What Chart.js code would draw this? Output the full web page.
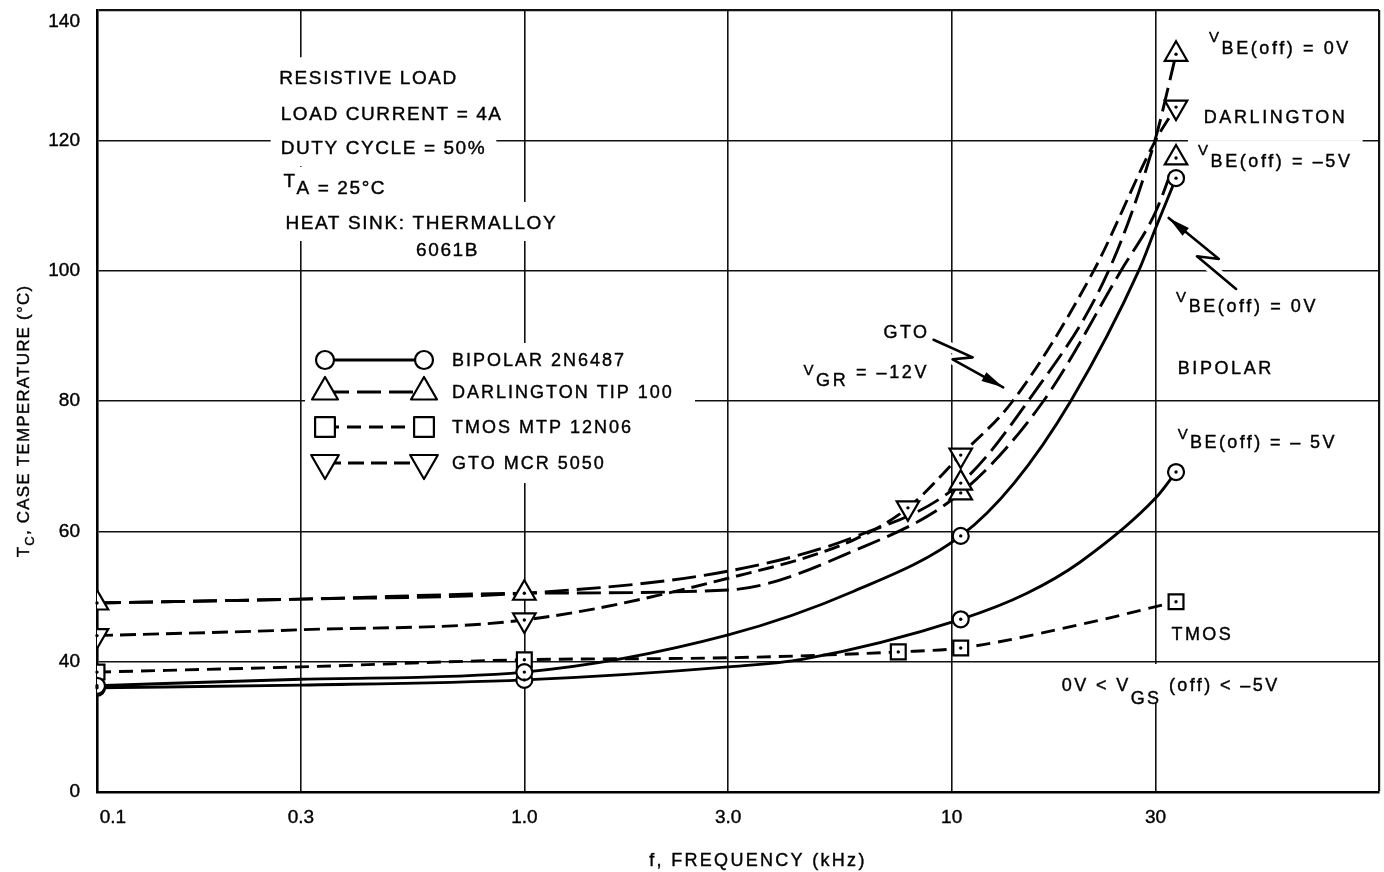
<!DOCTYPE html>
<html>
<head>
<meta charset="utf-8">
<script src="https://cdn.jsdelivr.net/npm/chart.js@4.4.1/dist/chart.umd.min.js"></script>
<style>
  html, body { margin: 0; padding: 0; background: #fff; }
  canvas { display: block; }
</style>
</head>
<body>
<canvas id="chart" width="1384" height="872"></canvas>
<script>
// axis ticks (the y axis is broken below 40: the bottom line is labelled 0)
const xTickValues = [0.1, 0.3, 1, 3, 10, 30, 100];
const xTickLabels = ['0.1', '0.3', '1.0', '3.0', '10', '30', ''];
const yTickValues = [20, 40, 60, 80, 100, 120, 140];
const yTickLabels = ['0', '40', '60', '80', '100', '120', '140'];

const seriesNames = ['BIPOLAR 2N6487', 'DARLINGTON TIP 100', 'TMOS MTP 12N06', 'GTO MCR 5050'];

// curves: frequency (kHz) / case temperature (°C)
const bipolar0Freq = [0.1, 0.3, 1.0, 3.0, 5.9, 10.5, 14, 19, 27.4, 30, 33.5];
const bipolar0Temp = [36.3, 37.3, 38.4, 44.1, 50.8, 59.3, 67.4, 80, 100, 106.5, 114.2];
const bipolar0Marks = [0.1, 1.0, 10.5, 33.5];

const bipolar5Freq = [0.1, 0.3, 1.0, 3.0, 4.5, 10.5, 15, 20, 30, 33.5];
const bipolar5Temp = [36.0, 36.4, 37.2, 39.2, 40.4, 46.5, 50.5, 55.3, 65.1, 69.1];
const bipolar5Marks = [0.1, 1.0, 10.5, 33.5];

const darl0Freq = [0.1, 0.3, 1.0, 3.0, 5.9, 10.5, 15.1, 23.3, 29.9, 33.5];
const darl0Temp = [49.0, 49.6, 50.5, 53.9, 59.1, 67.4, 80, 100, 120, 133.2];
const darl0Marks = [0.1, 1.0, 10.5, 33.5];

const darl5Freq = [0.1, 0.3, 1.0, 3.0, 5.9, 10.5, 16.4, 24.9, 30, 33.5];
const darl5Temp = [49.0, 49.6, 50.5, 51.0, 57.0, 65.9, 80, 100, 109, 117.3];
const darl5Marks = [10.5, 33.5];

const tmosFreq = [0.1, 0.3, 1.0, 3.0, 7.5, 10.5, 20, 33.5];
const tmosTemp = [38.4, 39.2, 40.3, 40.6, 41.5, 42.1, 45.7, 49.2];
const tmosMarks = [0.1, 1.0, 7.5, 10.5, 33.5];

const gtoFreq = [0.1, 0.3, 1.0, 3.0, 5.9, 7.9, 10.5, 13.9, 21.5, 30, 33.5];
const gtoTemp = [44.0, 44.9, 46.4, 52.8, 58.7, 63.6, 71.7, 80, 100, 120, 125.1];
const gtoMarks = [0.1, 1.0, 7.9, 10.5, 33.5];

const FONT = "'Liberation Sans', Arial, Helvetica, sans-serif";
const TEXT_STROKE = 0.4;

const styles = {
    bipolar: { pointStyle: 'circle', rotation: 0, radius: 8, legendRadius: 9, dash: [] },
    darlington: { pointStyle: 'triangle', rotation: 0, radius: 13, legendRadius: 15, dash: [24, 8] },
    tmos: { pointStyle: 'rect', rotation: 0, radius: 10.5, legendRadius: 14, dash: [14, 8] },
    gto: { pointStyle: 'triangle', rotation: 180, radius: 13, legendRadius: 16, dash: [16, 7] }
};

const curves = [
    { freq: bipolar0Freq, temp: bipolar0Temp, marks: bipolar0Marks, style: styles.bipolar },
    { freq: bipolar5Freq, temp: bipolar5Temp, marks: bipolar5Marks, style: styles.bipolar },
    { freq: darl0Freq, temp: darl0Temp, marks: darl0Marks, style: styles.darlington },
    { freq: darl5Freq, temp: darl5Temp, marks: darl5Marks, style: styles.darlington },
    { freq: tmosFreq, temp: tmosTemp, marks: tmosMarks, style: styles.tmos },
    { freq: gtoFreq, temp: gtoTemp, marks: gtoMarks, style: styles.gto }
];

// text placed in chart units (kHz, °C) at the left end of its baseline
const notes = [
    { f: 0.267, t: 128.6, ls: 1.6, parts: [{ t: 'RESISTIVE LOAD', size: 19 }] },
    { f: 0.269, t: 123.1, ls: 1.6, parts: [{ t: 'LOAD CURRENT = 4A', size: 19 }] },
    { f: 0.269, t: 117.9, ls: 1.6, parts: [{ t: 'DUTY CYCLE = 50%', size: 19 }] },
    { f: 0.273, t: 111.8, ls: 1.6, parts: [{ t: 'T', size: 19, dy: -7 }, { t: 'A = 25°C', size: 19 }] },
    { f: 0.276, t: 106.4, ls: 1.6, parts: [{ t: 'HEAT SINK: THERMALLOY', size: 19 }] },
    { f: 0.558, t: 102.2, ls: 1.6, parts: [{ t: '6061B', size: 19 }] },
    { f: 40.0, t: 133.2, ls: 2.6, parts: [{ t: 'V', size: 15, dy: -12 }, { t: 'BE(off) = 0V', size: 18 }] },
    { f: 38.9, t: 122.7, ls: 2.6, parts: [{ t: 'DARLINGTON', size: 18 }] },
    { f: 37.7, t: 115.9, ls: 2.6, parts: [{ t: 'V', size: 15, dy: -12 }, { t: 'BE(off) = –5V', size: 18 }] },
    { f: 33.5, t: 93.7, ls: 2.6, parts: [{ t: 'V', size: 15, dy: -10 }, { t: 'BE(off) = 0V', size: 18 }] },
    { f: 33.8, t: 84.1, ls: 2.6, parts: [{ t: 'BIPOLAR', size: 18 }] },
    { f: 33.8, t: 72.8, ls: 2.4, parts: [{ t: 'V', size: 15, dy: -9 }, { t: 'BE(off) = – 5V', size: 18 }] },
    { f: 32.7, t: 43.3, ls: 2.4, parts: [{ t: 'TMOS', size: 18 }] },
    { f: 18.1, t: 35.5, ls: 2.4, parts: [{ t: '0V < V', size: 18 }, { t: 'GS', size: 18, dy: 13 }, { t: ' (off) < –5V', size: 18 }] },
    { f: 6.93, t: 89.7, ls: 2.4, parts: [{ t: 'GTO', size: 18 }] },
    { f: 4.5, t: 82.3, ls: 2.6, parts: [{ t: 'V', size: 15, dy: -11 }, { t: 'GR', size: 18 }, { t: ' = –12V', size: 18, dy: -8 }] }
];

// lightning arrows: tail, zig, zag, tip (kHz, °C)
const arrows = [
    [[46.3, 97.2], [37.5, 102.2], [42.2, 101.8], [32.2, 108.1]],
    [[9.07, 89.4], [11.2, 86.7], [10.05, 86.4], [13.2, 82.1]]
];

const toPoints = (freq, temp) => freq.map((x, i) => ({ x: x, y: temp[i] }));

const datasets = [];
curves.forEach(c => {
    datasets.push({
        data: toPoints(c.freq, c.temp),
        showLine: true,
        borderColor: '#000',
        borderWidth: 2.9,
        borderDash: c.style.dash,
        cubicInterpolationMode: 'monotone',
        pointRadius: 0,
        fill: false,
        order: 2
    });
});
curves.forEach(c => {
    datasets.push({
        data: toPoints(c.freq, c.temp).filter(p => c.marks.includes(p.x)),
        showLine: false,
        pointStyle: c.style.pointStyle,
        pointRotation: c.style.rotation,
        pointRadius: c.style.radius,
        pointBackgroundColor: '#fff',
        pointBorderColor: '#000',
        pointBorderWidth: 2.2,
        markerDot: true,
        order: 1
    });
});

function setFont(ctx, size) {
    ctx.font = size + 'px ' + FONT;
}

function richWidth(ctx, parts, ls) {
    ctx.letterSpacing = ls + 'px';
    return parts.reduce((w, p) => {
        setFont(ctx, p.size);
        return w + ctx.measureText(p.t).width;
    }, 0);
}

function drawRich(ctx, x, y, parts, ls) {
    ctx.letterSpacing = ls + 'px';
    ctx.strokeStyle = '#000';
    ctx.lineWidth = TEXT_STROKE;
    ctx.setLineDash([]);
    let cx = x;
    parts.forEach(p => {
        setFont(ctx, p.size);
        ctx.fillText(p.t, cx, y + (p.dy || 0));
        ctx.strokeText(p.t, cx, y + (p.dy || 0));
        cx += ctx.measureText(p.t).width;
    });
}

function px(chart, f, t) {
    return [chart.scales.x.getPixelForValue(f), chart.scales.y.getPixelForValue(t)];
}

function legendOrigin(chart) {
    const a = chart.chartArea;
    return { x: a.left + 228, y: a.top + 350 };
}
const legendRowOffsets = [0, 32, 67, 103];
const legendStyles = [styles.bipolar, styles.darlington, styles.tmos, styles.gto];

function arrowPath(chart, pts) {
    return pts.map(p => px(chart, p[0], p[1]));
}

function strokeArrow(ctx, P, color, width) {
    ctx.strokeStyle = color;
    ctx.lineWidth = width;
    ctx.lineJoin = 'round';
    ctx.lineCap = 'round';
    ctx.setLineDash([]);
    ctx.beginPath();
    P.forEach((p, i) => i ? ctx.lineTo(p[0], p[1]) : ctx.moveTo(p[0], p[1]));
    ctx.stroke();
}

const overlay = {
    id: 'overlay',
    beforeDatasetsDraw(chart) {
        const ctx = chart.ctx;
        ctx.save();
        ctx.fillStyle = '#fff';
        notes.forEach(n => {
            const [x, y] = px(chart, n.f, n.t);
            const w = richWidth(ctx, n.parts, n.ls);
            ctx.fillRect(x - 10, y - 27, w + 20, 39);
        });
        const L = legendOrigin(chart);
        ctx.fillRect(L.x - 20, L.y - 17, 390, 140);
        arrows.forEach(a => strokeArrow(ctx, arrowPath(chart, a), '#fff', 10));
        ctx.restore();
    },
    afterDatasetsDraw(chart) {
        const ctx = chart.ctx;
        ctx.save();
        ctx.fillStyle = '#000';

        // centre dots in the plotted markers
        chart.data.datasets.forEach((ds, i) => {
            if (!ds.markerDot) return;
            chart.getDatasetMeta(i).data.forEach(el => {
                ctx.beginPath();
                ctx.arc(el.x, el.y, 1.7, 0, Math.PI * 2);
                ctx.fill();
            });
        });

        // notes
        ctx.textAlign = 'left';
        ctx.textBaseline = 'alphabetic';
        notes.forEach(n => {
            const [x, y] = px(chart, n.f, n.t);
            drawRich(ctx, x, y, n.parts, n.ls);
        });

        // arrows
        arrows.forEach(a => {
            const P = arrowPath(chart, a);
            strokeArrow(ctx, P, '#000', 2.6);
            const tip = P[P.length - 1], prev = P[P.length - 2];
            const ang = Math.atan2(tip[1] - prev[1], tip[0] - prev[0]);
            const len = 22, half = 5;
            const bx = tip[0] - Math.cos(ang) * len, by = tip[1] - Math.sin(ang) * len;
            ctx.beginPath();
            ctx.moveTo(tip[0], tip[1]);
            ctx.lineTo(bx - Math.sin(ang) * half, by + Math.cos(ang) * half);
            ctx.lineTo(bx + Math.sin(ang) * half, by - Math.cos(ang) * half);
            ctx.closePath();
            ctx.fill();
        });

        // legend
        const L = legendOrigin(chart);
        const drawPoint = Chart.helpers.drawPoint;
        seriesNames.forEach((name, i) => {
            const s = legendStyles[i];
            const y = L.y + legendRowOffsets[i];
            const x1 = L.x, x2 = L.x + 99;
            ctx.strokeStyle = '#000';
            ctx.lineWidth = 2.8;
            ctx.lineCap = 'butt';
            ctx.setLineDash(s.dash);
            ctx.beginPath();
            ctx.moveTo(x1, y);
            ctx.lineTo(x2, y);
            ctx.stroke();
            ctx.setLineDash([]);
            ctx.fillStyle = '#fff';
            ctx.lineWidth = 2.2;
            [x1, x2].forEach(x => drawPoint(ctx, {
                pointStyle: s.pointStyle, rotation: s.rotation, radius: s.legendRadius, borderWidth: 2.2
            }, x, y));
            ctx.fillStyle = '#000';
            drawRich(ctx, L.x + 127, y + 6, [{ t: name, size: 18 }], 2);
        });
        ctx.restore();
    },
    afterDraw(chart) {
        const ctx = chart.ctx;
        const a = chart.chartArea;
        ctx.save();
        ctx.fillStyle = '#000';
        ctx.textBaseline = 'alphabetic';

        // y axis title, rotated
        const yParts = [{ t: 'T', size: 17 }, { t: 'C', size: 13, dy: 5 }, { t: ', CASE TEMPERATURE (°C)', size: 17 }];
        const yw = richWidth(ctx, yParts, 1.2);
        ctx.translate(23, (a.top + a.bottom) / 2 + 20);
        ctx.rotate(-Math.PI / 2);
        drawRich(ctx, -yw / 2, 6, yParts, 1.2);
        ctx.setTransform(1, 0, 0, 1, 0, 0);

        // x axis title
        const xParts = [{ t: 'f, FREQUENCY (kHz)', size: 18 }];
        const xw = richWidth(ctx, xParts, 2.3);
        drawRich(ctx, (a.left + a.right) / 2 + 20 - xw / 2, a.bottom + 74, xParts, 2.3);
        ctx.restore();
    }
};

new Chart(document.getElementById('chart'), {
    type: 'scatter',
    data: { datasets: datasets },
    plugins: [overlay],
    options: {
        responsive: false,
        animation: false,
        events: [],
        layout: { autoPadding: false, padding: { top: 10, right: 5, left: 0, bottom: 0 } },
        plugins: {
            legend: { display: false },
            tooltip: { enabled: false }
        },
        scales: {
            x: {
                type: 'logarithmic',
                min: 0.1,
                max: 100,
                afterBuildTicks: scale => { scale.ticks = xTickValues.map(v => ({ value: v })); },
                afterFit: scale => {
                    scale.height = 80;
                    scale.paddingLeft = 0;
                    scale.paddingRight = 0;
                },
                ticks: {
                    autoSkip: false,
                    maxRotation: 0,
                    padding: 14,
                    color: '#000',
                    textStrokeColor: '#000',
                    textStrokeWidth: TEXT_STROKE,
                    font: { family: FONT, size: 19 },
                    // the first label sits right of the axis line, as in the original
                    callback: (v, i) => (i === 0 ? '\u2007\u2007\u2007' : '') + xTickLabels[i]
                },
                grid: {
                    color: '#111',
                    lineWidth: ctx => (ctx.tick && ctx.tick.value === 100 ? 2.2 : 1.6),
                    drawTicks: false
                },
                border: { color: '#000', width: 2.6 }
            },
            y: {
                type: 'linear',
                min: 20,
                max: 140,
                afterBuildTicks: scale => { scale.ticks = yTickValues.map(v => ({ value: v })); },
                afterFit: scale => {
                    scale.width = 97;
                    scale.paddingTop = 0;
                    scale.paddingBottom = 0;
                },
                ticks: {
                    padding: 17,
                    color: '#000',
                    textStrokeColor: '#000',
                    textStrokeWidth: TEXT_STROKE,
                    font: { family: FONT, size: 19 },
                    // the top label is pushed down inside the page, as in the original
                    callback: (v, i) => (i === yTickLabels.length - 1 ? ['', yTickLabels[i]] : yTickLabels[i])
                },
                grid: {
                    color: '#111',
                    lineWidth: ctx => (ctx.tick && ctx.tick.value === 140 ? 2.2 : 1.6),
                    drawTicks: false
                },
                border: { color: '#000', width: 2.6 }
            }
        }
    }
});
</script>
</body>
</html>
